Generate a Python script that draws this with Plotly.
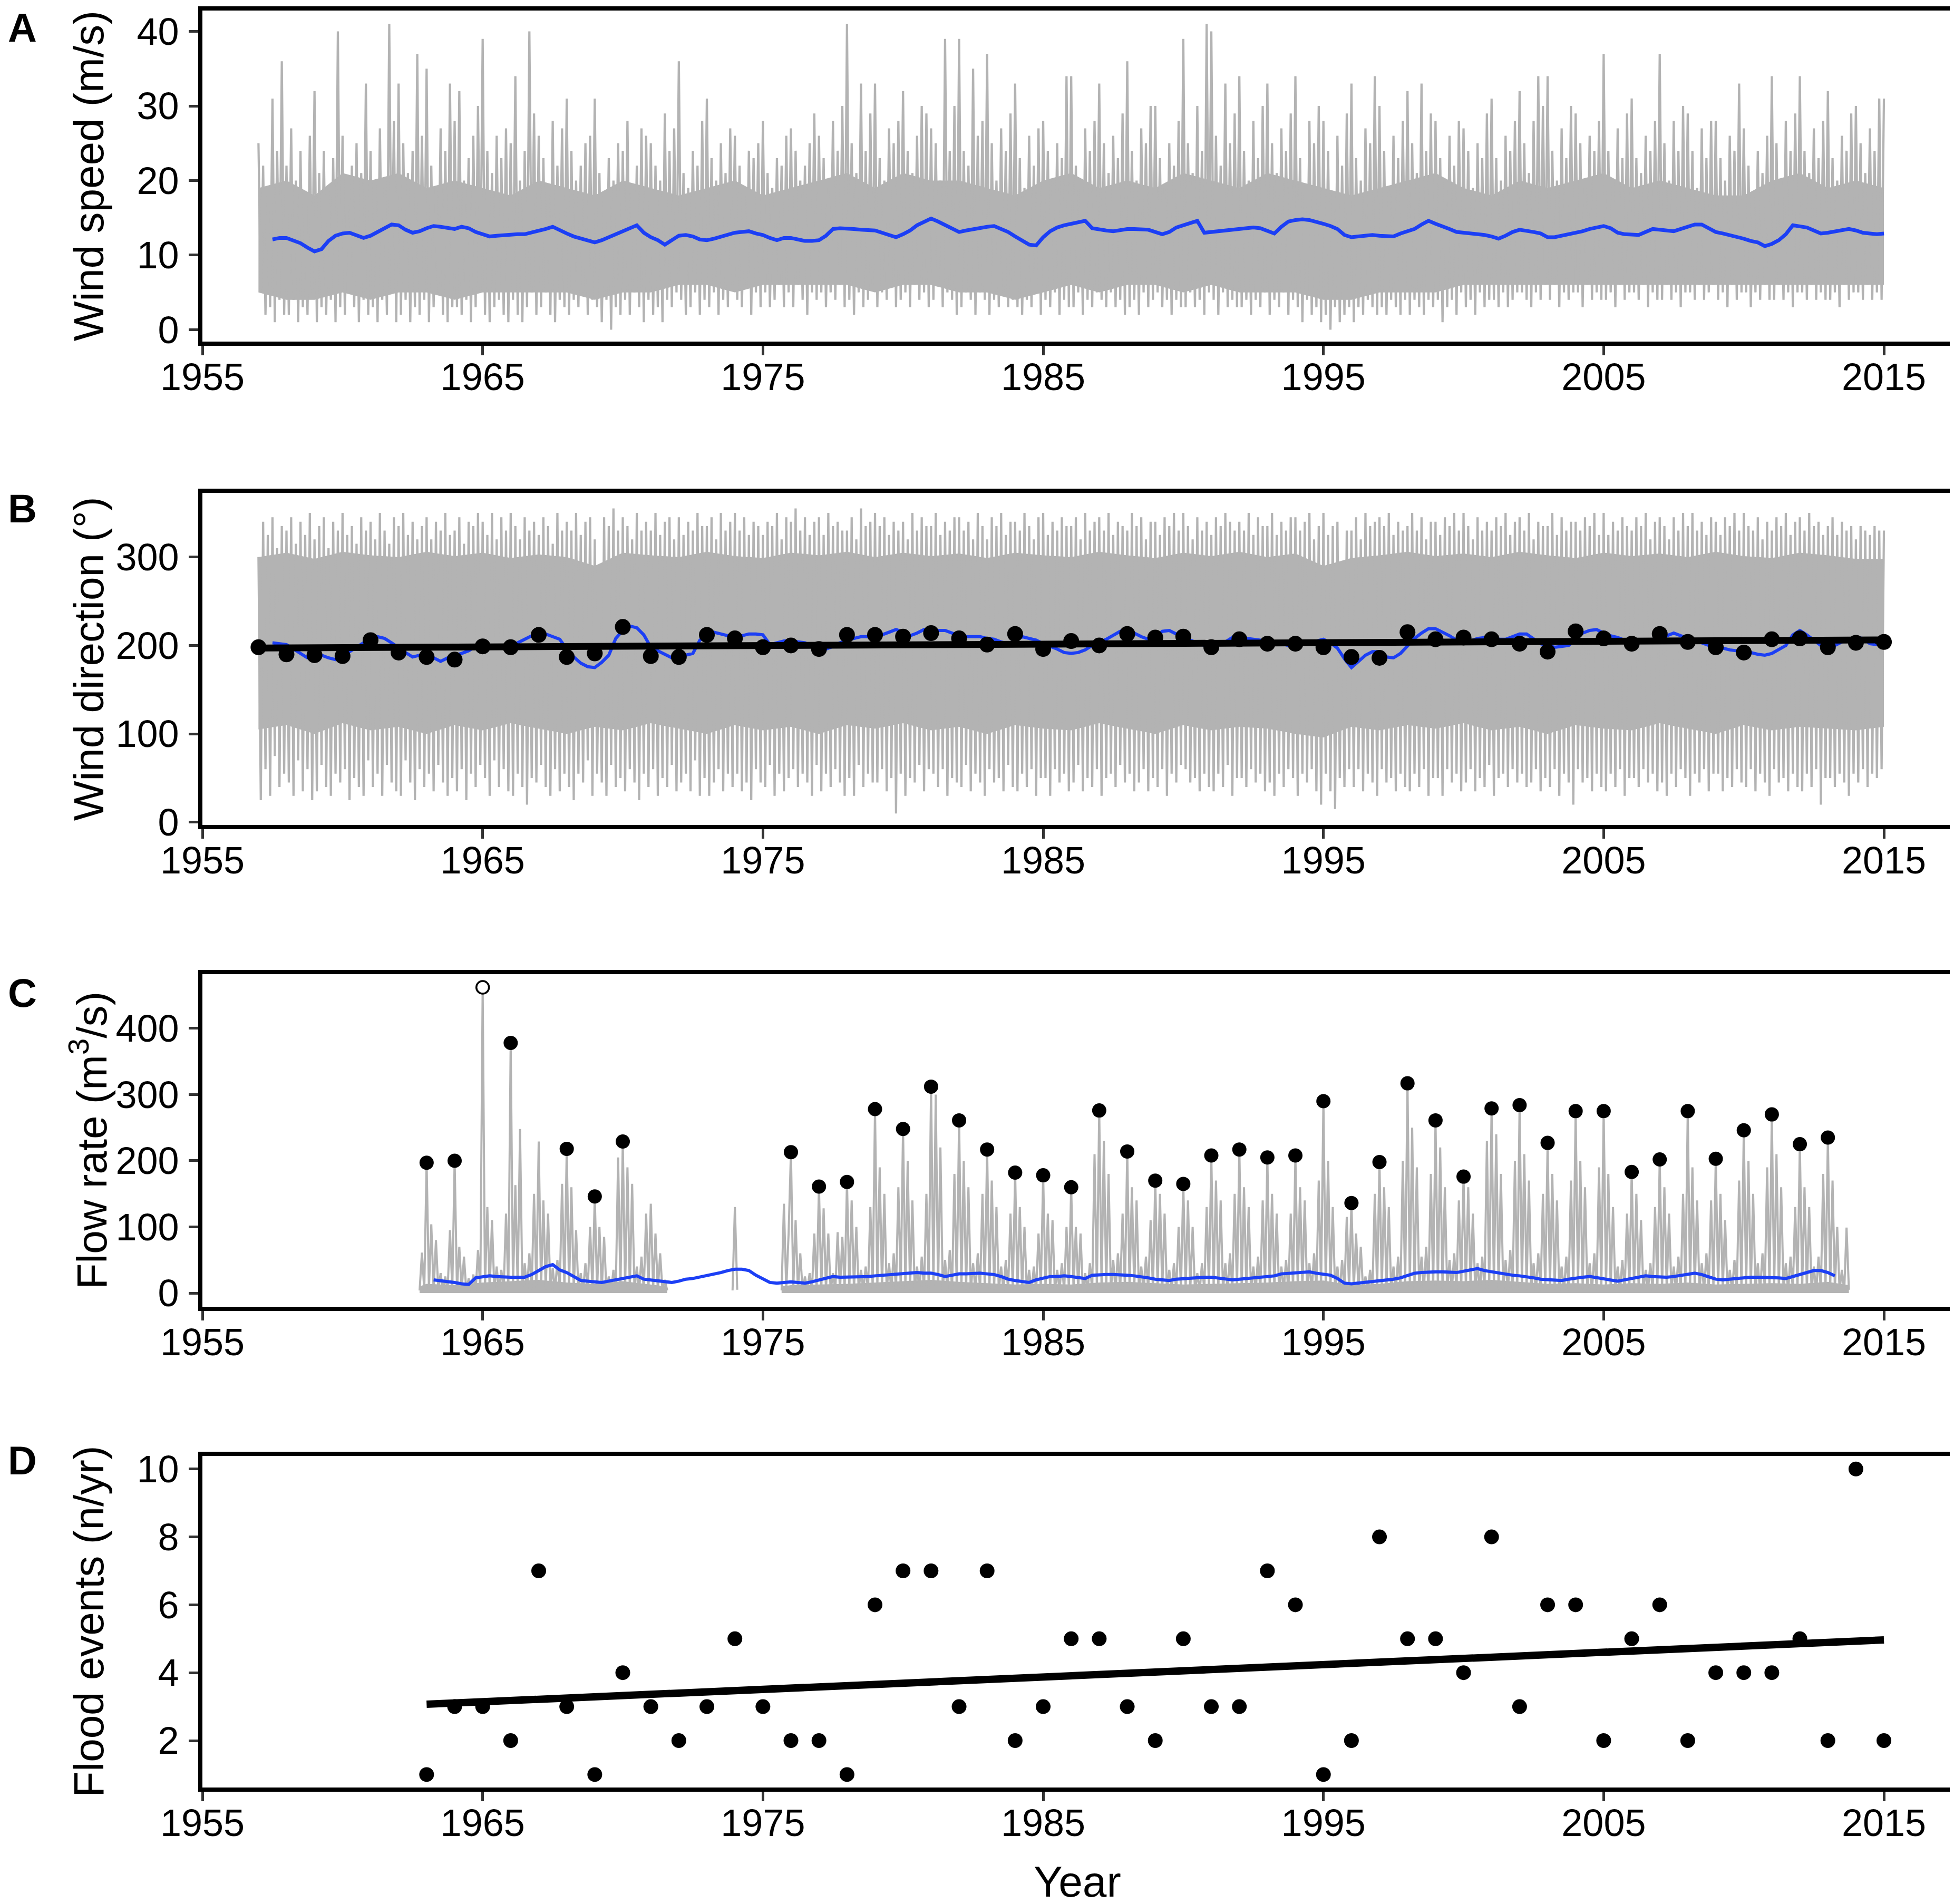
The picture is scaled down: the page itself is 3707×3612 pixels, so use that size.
import numpy as np
import plotly.graph_objects as go

# ---------------- data ----------------

# A: daily wind speed (m/s), kept as alternating bi-monthly highs / lows
wind_speed_start = 1957.0
wind_speed_high = [
    25, 22, 19, 31, 24, 36,   # 1957
    22, 27, 20, 24, 18, 26,
    32, 21, 24, 19, 23, 40,
    26, 18, 22, 25, 21, 33,   # 1960
    24, 20, 27, 19, 41, 28,
    33, 25, 21, 24, 37, 26,
    35, 22, 19, 27, 24, 33,
    28, 32, 20, 23, 26, 30,
    39, 24, 21, 26, 23, 27,   # 1965
    25, 34, 20, 24, 40, 29,
    26, 23, 19, 28, 22, 27,
    31, 24, 20, 22, 25, 26,
    31, 21, 18, 23, 20, 25,
    24, 28, 19, 22, 27, 26,   # 1970
    25, 22, 20, 29, 24, 27,
    36, 21, 19, 24, 22, 28,
    31, 23, 20, 25, 21, 27,
    26, 22, 18, 24, 23, 25,
    28, 21, 19, 23, 22, 26,   # 1975
    27, 24, 20, 22, 25, 29,
    26, 23, 19, 28, 24, 30,
    41, 25, 21, 33, 24, 29,
    33, 23, 20, 27, 25, 28,
    32, 24, 21, 26, 30, 29,   # 1980
    27, 25, 20, 39, 24, 30,
    39, 24, 22, 35, 26, 28,
    37, 25, 20, 27, 24, 29,
    33, 23, 19, 26, 22, 27,
    28, 24, 20, 25, 23, 34,   # 1985
    34, 22, 19, 27, 24, 28,
    33, 25, 21, 26, 23, 29,
    36, 24, 20, 27, 25, 30,
    30, 23, 19, 25, 22, 28,
    39, 25, 21, 30, 24, 41,   # 1990
    40, 26, 22, 33, 25, 29,
    34, 24, 20, 28, 23, 30,
    33, 25, 21, 27, 24, 29,
    34, 23, 19, 28, 25, 30,
    28, 24, 18, 26, 22, 29,   # 1995
    33, 23, 20, 27, 25, 34,
    30, 24, 19, 26, 23, 28,
    32, 25, 21, 33, 24, 29,
    28, 23, 20, 26, 22, 28,
    27, 24, 19, 25, 23, 29,   # 2000
    31, 23, 20, 26, 24, 28,
    32, 25, 21, 28, 34, 30,
    34, 24, 20, 27, 23, 30,
    29, 25, 19, 26, 24, 28,
    37, 24, 20, 27, 23, 29,   # 2005
    31, 23, 21, 26, 24, 28,
    37, 25, 20, 28, 24, 30,
    29, 24, 19, 27, 23, 28,
    28, 23, 20, 26, 24, 33,
    27, 22, 18, 24, 21, 26,   # 2010
    34, 25, 20, 28, 24, 29,
    34, 24, 21, 27, 23, 28,
    32, 23, 20, 26, 24, 29,
    30, 25, 21, 27, 24, 31,
    31,                       # 2015
]
wind_speed_low = [
    5, 2, 3, 1, 4, 2,   # 1957
    2, 4, 1, 3, 2, 5,
    1, 3, 2, 4, 1, 3,
    2, 5, 3, 1, 4, 2,   # 1960
    3, 1, 4, 2, 5, 1,
    2, 4, 1, 3, 2, 4,
    1, 3, 5, 2, 1, 3,
    3, 2, 4, 1, 3, 5,
    2, 1, 3, 4, 2, 1,   # 1965
    4, 2, 1, 3, 5, 2,
    3, 5, 2, 1, 4, 3,
    2, 4, 3, 5, 2, 4,
    3, 1, 4, 0, 3, 2,
    4, 2, 5, 3, 1, 4,   # 1970
    2, 3, 1, 4, 3, 5,
    4, 2, 3, 5, 2, 4,
    3, 5, 2, 4, 3, 6,
    4, 3, 6, 2, 5, 3,
    5, 3, 4, 6, 3, 5,   # 1975
    3, 6, 4, 2, 5, 4,
    5, 3, 5, 4, 6, 3,
    4, 2, 5, 3, 4, 6,
    3, 5, 4, 6, 3, 4,
    5, 3, 6, 4, 5, 3,   # 1980
    4, 6, 3, 5, 4, 2,
    3, 5, 4, 2, 5, 4,
    2, 4, 3, 5, 3, 4,
    3, 2, 4, 3, 5, 2,
    4, 3, 5, 2, 4, 3,   # 1985
    3, 5, 2, 4, 3, 5,
    4, 3, 5, 3, 4, 2,
    3, 4, 2, 5, 3, 4,
    5, 3, 4, 2, 4, 3,
    3, 5, 3, 4, 2, 5,   # 1990
    4, 2, 5, 3, 4, 3,
    3, 4, 2, 4, 3, 5,
    2, 4, 3, 5, 2, 4,
    3, 1, 4, 2, 3, 1,
    2, 0, 3, 1, 2, 3,   # 1995
    1, 3, 2, 4, 3, 2,
    3, 2, 4, 3, 2, 4,
    2, 4, 3, 2, 4, 3,
    4, 1, 3, 4, 2, 5,
    3, 4, 2, 5, 3, 4,   # 2000
    4, 3, 5, 3, 4, 5,
    5, 4, 3, 5, 4, 6,
    4, 6, 3, 5, 4, 5,
    5, 3, 6, 4, 5, 4,
    4, 5, 3, 6, 4, 5,   # 2005
    5, 4, 6, 3, 5, 4,
    4, 6, 4, 5, 3, 5,
    5, 4, 6, 4, 5, 6,
    4, 5, 3, 6, 4, 5,
    5, 3, 5, 4, 6, 4,   # 2010
    4, 6, 4, 5, 3, 5,
    5, 4, 6, 4, 5, 4,
    4, 5, 3, 6, 4, 5,
    5, 4, 6, 4, 5, 4,
]
# dense core of the daily trace, one value per year 1957..2015
wind_years = list(range(1957, 2016))
wind_speed_core_top = [
    19, 20, 18, 21, 20, 21, 19, 20, 19, 18,
    20, 19, 18, 20, 19, 18, 19, 20, 18, 19,
    20, 21, 19, 21, 20, 20, 19, 18, 20, 21,
    19, 20, 19, 21, 20, 19, 21, 20, 19, 18,
    19, 20, 21, 19, 18, 20, 19, 20, 21, 19,
    20, 19, 18, 18, 20, 21, 19, 20, 19,
]
wind_speed_core_bottom = [
    5, 4, 4, 5, 4, 5, 5, 4, 5, 5,
    5, 5, 4, 5, 5, 6, 6, 5, 6, 6,
    6, 6, 5, 6, 6, 5, 5, 4, 5, 6,
    5, 6, 6, 5, 6, 5, 5, 5, 4, 4,
    5, 5, 5, 6, 6, 6, 6, 6, 6, 6,
    6, 6, 6, 6, 6, 6, 6, 6, 6,
]
# running mean, one value every quarter year from 1957.5
wind_speed_mean_start = 1957.5
wind_speed_mean = [
    12.1, 12.3,
    12.3, 12.0, 11.6, 11.0,  10.5, 10.8, 11.9, 12.6,
    12.9, 13.0, 12.6, 12.3,  12.6, 13.1, 13.7, 14.1,
    14.0, 13.4, 13.0, 13.2,  13.6, 13.9, 13.8, 13.6,
    13.5, 13.8, 13.6, 13.1,  12.8, 12.5, 12.6, 12.7,
    12.8, 12.8, 12.8, 13.0,  13.2, 13.5, 13.8, 13.3,
    12.9, 12.5, 12.2, 11.9,  11.7, 12.0, 12.4, 12.9,
    13.2, 13.6, 14.0, 13.0,  12.4, 12.0, 11.4, 12.0,
    12.6, 12.7, 12.5, 12.1,  12.0, 12.2, 12.5, 12.8,
    13.0, 13.1, 13.2, 12.9,  12.7, 12.3, 12.0, 12.3,
    12.3, 12.1, 11.9, 11.9,  12.0, 12.6, 13.5, 13.6,
    13.6, 13.5, 13.4, 13.4,  13.3, 13.0, 12.7, 12.4,
    12.8, 13.3, 14.0, 14.5,  14.9, 14.5, 14.0, 13.5,
    13.1, 13.3, 13.5, 13.6,  13.8, 13.9, 13.5, 13.1,
    12.5, 12.0, 11.4, 11.3,  12.4, 13.2, 13.7, 14.0,
    14.2, 14.3, 14.6, 13.6,  13.4, 13.3, 13.2, 13.4,
    13.5, 13.5, 13.5, 13.4,  13.1, 12.8, 13.1, 13.7,
    14.0, 14.3, 14.6, 13.0,  13.1, 13.2, 13.3, 13.4,
    13.5, 13.6, 13.7, 13.6,  13.3, 12.9, 13.8, 14.5,
    14.7, 14.8, 14.7, 14.5,  14.2, 13.9, 13.5, 12.7,
    12.4, 12.5, 12.6, 12.7,  12.6, 12.6, 12.5, 12.9,
    13.2, 13.5, 14.1, 14.6,  14.2, 13.9, 13.5, 13.1,
    13.0, 12.9, 12.9, 12.7,  12.5, 12.2, 12.6, 13.1,
    13.4, 13.3, 13.1, 12.9,  12.4, 12.4, 12.6, 12.7,
    12.9, 13.2, 13.5, 13.7,  13.9, 13.6, 13.0, 12.8,
    12.7, 12.7, 13.1, 13.5,  13.4, 13.3, 13.2, 13.5,
    13.8, 14.1, 14.1, 13.6,  13.1, 12.9, 12.7, 12.5,
    12.2, 11.9, 11.7, 11.2,  11.5, 12.0, 12.8, 14.0,
    13.9, 13.7, 13.3, 12.9,  13.0, 13.2, 13.4, 13.5,
    13.3, 13.0, 12.9, 12.8,
    12.9,
]

# B: daily wind direction (degrees)
wind_dir_start = 1957.0
wind_dir_high = [
    300, 340, 325, 345, 310, 335,   # 1957
    330, 345, 315, 340, 325, 350,
    320, 335, 345, 310, 340, 330,
    350, 325, 335, 315, 345, 330,   # 1960
    340, 320, 350, 330, 315, 345,
    335, 350, 325, 340, 320, 335,
    345, 320, 340, 330, 350, 325,
    330, 345, 315, 340, 335, 350,
    340, 325, 350, 320, 345, 330,   # 1965
    350, 335, 320, 345, 330, 340,
    325, 345, 335, 315, 350, 330,
    340, 330, 350, 325, 340, 345,
    320, 250, 345, 335, 355, 330,
    345, 335, 320, 350, 330, 340,   # 1970
    330, 350, 325, 340, 345, 320,
    345, 325, 340, 330, 350, 335,
    335, 345, 320, 350, 330, 340,
    350, 330, 345, 325, 340, 335,
    325, 340, 335, 350, 320, 345,   # 1975
    340, 355, 330, 345, 325, 340,
    345, 325, 350, 335, 340, 330,
    330, 345, 320, 355, 335, 340,
    350, 335, 345, 325, 340, 330,
    340, 320, 350, 330, 345, 335,   # 1980
    335, 350, 325, 340, 330, 345,
    345, 330, 340, 320, 350, 335,
    320, 345, 335, 350, 325, 340,
    340, 330, 350, 335, 320, 345,
    350, 325, 340, 330, 345, 335,   # 1985
    335, 345, 320, 350, 330, 340,
    345, 330, 350, 325, 340, 335,
    330, 350, 335, 345, 320, 340,
    340, 325, 345, 335, 350, 330,
    350, 335, 320, 345, 330, 340,   # 1990
    325, 345, 335, 350, 340, 330,
    340, 330, 350, 325, 345, 335,
    335, 350, 325, 340, 330, 345,
    345, 330, 340, 350, 320, 335,
    350, 325, 335, 340, 270, 330,   # 1995
    330, 345, 320, 350, 335, 340,
    345, 335, 350, 325, 340, 330,
    335, 350, 330, 345, 320, 340,
    340, 325, 345, 335, 350, 330,
    350, 335, 320, 345, 330, 340,   # 2000
    330, 345, 335, 350, 325, 340,
    345, 330, 350, 320, 340, 335,
    335, 350, 325, 345, 330, 340,
    340, 330, 345, 335, 350, 325,
    350, 325, 340, 330, 345, 335,   # 2005
    330, 345, 335, 350, 320, 340,
    345, 335, 320, 345, 330, 350,
    335, 350, 330, 340, 325, 345,
    340, 325, 345, 335, 350, 330,
    350, 335, 330, 345, 320, 340,   # 2010
    330, 345, 335, 350, 325, 340,
    345, 330, 350, 335, 340, 325,
    335, 345, 325, 340, 330, 335,
    320, 335, 330, 325, 335, 330,
    330,                            # 2015
]
wind_dir_low = [
    25, 60, 30, 75, 40, 55,   # 1957
    45, 30, 70, 35, 60, 25,
    35, 65, 40, 30, 55, 45,
    60, 25, 50, 40, 30, 70,   # 1960
    40, 55, 30, 65, 45, 35,
    30, 70, 45, 25, 60, 40,
    55, 35, 65, 45, 30, 50,
    35, 60, 25, 55, 40, 65,
    50, 30, 70, 40, 60, 35,   # 1965
    30, 55, 40, 20, 50, 45,
    65, 40, 30, 60, 35, 55,
    40, 25, 55, 45, 70, 30,
    55, 45, 30, 65, 40, 50,
    35, 60, 45, 25, 55, 40,   # 1970
    60, 30, 50, 40, 65, 35,
    45, 55, 35, 70, 30, 50,
    30, 45, 60, 35, 55, 40,
    55, 35, 45, 25, 60, 45,
    40, 65, 30, 55, 35, 50,   # 1975
    60, 40, 55, 45, 30, 65,
    35, 55, 40, 60, 45, 30,
    50, 30, 65, 40, 55, 45,
    45, 60, 35, 50, 10, 55,
    30, 50, 45, 65, 35, 60,   # 1980
    55, 40, 60, 30, 50, 45,
    40, 65, 35, 55, 45, 30,
    60, 45, 50, 35, 65, 40,
    35, 55, 40, 60, 30, 50,
    50, 30, 60, 45, 55, 35,   # 1985
    45, 65, 35, 50, 40, 60,
    30, 50, 55, 40, 65, 45,
    55, 35, 45, 60, 35, 50,
    40, 60, 30, 55, 45, 65,
    60, 45, 50, 35, 55, 40,   # 1990
    35, 55, 40, 65, 30, 50,
    50, 40, 60, 45, 55, 35,
    45, 30, 55, 40, 60, 50,
    30, 55, 45, 60, 35, 20,
    55, 35, 15, 50, 40, 60,   # 1995
    40, 60, 35, 55, 45, 30,
    60, 45, 50, 35, 55, 40,
    35, 55, 40, 60, 30, 50,
    50, 30, 60, 45, 55, 35,
    45, 60, 35, 50, 40, 65,   # 2000
    30, 50, 55, 40, 60, 45,
    55, 40, 45, 60, 35, 50,
    40, 60, 30, 55, 45, 20,
    60, 45, 50, 35, 55, 40,
    35, 55, 40, 60, 30, 50,   # 2005
    50, 40, 60, 45, 55, 35,
    45, 30, 55, 40, 60, 50,
    30, 55, 45, 60, 35, 55,
    55, 35, 50, 40, 60, 45,
    40, 60, 35, 55, 45, 30,   # 2010
    60, 45, 50, 35, 55, 40,
    35, 55, 40, 60, 20, 50,
    50, 40, 55, 45, 30, 55,
    45, 60, 40, 55, 50, 60,
]
wind_dir_core_top = [
    300, 305, 298, 306, 302, 300, 306, 301, 305, 299,
    303, 300, 290, 305, 302, 300, 306, 301, 299, 305,
    302, 306, 300, 305, 301, 304, 299, 305, 302, 300,
    306, 302, 299, 305, 301, 306, 300, 304, 290, 299,
    302, 306, 301, 304, 300, 306, 302, 299, 305, 301,
    304, 300, 306, 301, 299, 305, 302, 298, 298,
]
wind_dir_core_bottom = [
    105, 110, 100, 112, 104, 108, 100, 110, 104, 112,
    106, 100, 108, 104, 112, 106, 100, 110, 104, 108,
    100, 110, 106, 112, 104, 108, 100, 110, 106, 104,
    112, 106, 100, 110, 104, 108, 106, 100, 96, 108,
    104, 110, 106, 112, 104, 108, 100, 110, 106, 104,
    112, 106, 100, 110, 104, 108, 106, 104, 108,
]
wind_dir_mean_start = 1957.5
wind_dir_mean = [
    203, 202,
    201, 196, 191, 186,  186, 189, 186, 184,
    188, 193, 199, 204,  208, 210, 208, 203,
    197, 192, 187, 189,  191, 186, 182, 186,
    189, 191, 194, 199,  200, 197, 197, 198,
    198, 203, 207, 211,  213, 213, 210, 207,
    196, 187, 180, 176,  175, 181, 189, 208,
    217, 222, 220, 212,  198, 194, 190, 186,
    186, 189, 191, 206,  212, 215, 213, 211,
    209, 211, 213, 213,  212, 201, 203, 205,
    205, 204, 203, 199,  195, 196, 199, 203,
    206, 208, 210, 210,  211, 212, 215, 218,
    215, 211, 214, 218,  218, 217, 217, 214,
    211, 210, 210, 210,  208, 207, 204, 202,
    205, 210, 208, 206,  202, 199, 196, 192,
    191, 192, 195, 200,  203, 207, 211, 216,
    218, 214, 210, 207,  208, 216, 217, 213,
    209, 206, 203, 200,  198, 201, 204, 209,
    210, 208, 207, 206,  204, 203, 202, 200,
    200, 202, 203, 205,  207, 203, 197, 185,
    175, 182, 189, 193,  193, 187, 186, 191,
    199, 208, 214, 219,  219, 215, 211, 206,
    204, 205, 208, 209,  208, 207, 207, 210,
    213, 213, 207, 202,  200, 198, 199, 200,
    207, 214, 217, 218,  214, 211, 209, 206,
    204, 204, 205, 207,  209, 211, 214, 211,
    208, 206, 203, 200,  198, 197, 195, 194,
    193, 192, 190, 189,  191, 195, 200, 212,
    217, 212, 206, 200,  197, 200, 204, 206,
    209, 208, 202, 201,
    202,
]
wind_dir_years = list(range(1957, 2016))
wind_dir_annual = [
    198, 190, 189, 188, 206, 192, 187, 184, 199, 198,
    212, 187, 191, 221, 188, 187, 212, 208, 198, 200,
    196, 212, 212, 210, 214, 208, 201, 213, 196, 205,
    200, 213, 209, 210, 198, 207, 202, 202, 198, 187,
    186, 215, 207, 209, 207, 202, 193, 216, 208, 202,
    213, 204, 198, 192, 207, 208, 198, 203, 204,
]

# C: daily flow rate (m3/s), monthly samples, three pieces with gaps
flow_part1_start = 1962.75
flow_part1 = [
    4, 61, 5,                                          # 1962
    197, 6, 104, 4, 80, 5, 30, 3, 25, 4, 95, 5,        # 1963
    200, 5, 70, 4, 55, 3, 22, 4, 28, 3, 65, 6,
    462, 7, 130, 5, 110, 4, 40, 3, 35, 5, 120, 6,      # 1965
    378, 8, 163, 6, 248, 5, 45, 4, 60, 5, 150, 7,
    229, 6, 140, 5, 120, 4, 38, 3, 50, 4, 165, 6,
    218, 7, 160, 5, 95, 4, 30, 3, 45, 4, 100, 5,
    146, 5, 100, 4, 85, 3, 25, 2, 35, 4, 205, 6,
    229, 6, 190, 5, 165, 4, 40, 3, 55, 4, 120, 5,      # 1970
    135, 5, 90, 4, 60, 3, 20, 4,
]
flow_part2_start = 1973 + 11 / 12
flow_part2 = [4, 130, 5]
flow_part3_start = 1975 + 8 / 12
flow_part3 = [
    4, 135, 5, 90,                                     # 1975
    213, 6, 110, 4, 60, 3, 25, 4, 30, 3, 90, 5,        # 1976
    161, 5, 128, 4, 90, 3, 30, 4, 92, 3, 85, 5,
    168, 6, 140, 4, 100, 5, 35, 3, 40, 4, 130, 6,
    278, 7, 190, 5, 150, 4, 45, 3, 60, 5, 160, 6,
    248, 6, 200, 5, 140, 4, 40, 3, 55, 4, 150, 7,      # 1980
    312, 8, 300, 6, 220, 5, 50, 4, 65, 5, 180, 6,
    261, 7, 200, 5, 160, 4, 45, 3, 60, 4, 150, 6,
    217, 6, 170, 5, 130, 4, 40, 3, 50, 4, 120, 5,
    182, 5, 130, 4, 100, 3, 35, 2, 40, 4, 90, 5,
    178, 6, 120, 4, 110, 3, 35, 4, 45, 3, 100, 5,      # 1985
    160, 5, 100, 4, 90, 3, 30, 2, 45, 4, 210, 6,
    276, 7, 230, 5, 180, 4, 50, 3, 60, 5, 120, 6,
    214, 6, 160, 5, 140, 4, 40, 3, 55, 4, 110, 5,
    170, 5, 150, 4, 120, 3, 35, 4, 45, 3, 100, 5,
    165, 6, 140, 4, 100, 3, 30, 2, 45, 4, 130, 6,      # 1990
    208, 7, 170, 5, 140, 4, 45, 3, 60, 5, 150, 6,
    217, 6, 160, 5, 130, 4, 40, 3, 55, 4, 140, 5,
    205, 6, 150, 4, 120, 3, 40, 4, 50, 3, 120, 5,
    208, 7, 160, 5, 140, 4, 45, 3, 60, 5, 170, 6,
    290, 6, 200, 5, 130, 4, 40, 3, 50, 4, 115, 5,      # 1995
    136, 5, 90, 4, 70, 3, 25, 2, 35, 4, 150, 6,
    198, 6, 160, 5, 130, 4, 40, 3, 55, 4, 200, 7,
    317, 8, 250, 6, 190, 5, 55, 4, 70, 5, 180, 6,
    261, 7, 220, 5, 160, 4, 50, 3, 60, 4, 140, 6,
    176, 6, 160, 5, 120, 4, 45, 3, 55, 5, 230, 7,      # 2000
    279, 7, 240, 5, 180, 4, 50, 3, 65, 5, 200, 6,
    284, 7, 210, 5, 170, 4, 45, 3, 60, 4, 150, 6,
    227, 6, 180, 5, 140, 4, 40, 3, 55, 4, 170, 6,
    275, 7, 200, 5, 160, 4, 45, 3, 60, 5, 190, 6,
    275, 6, 180, 5, 130, 4, 40, 3, 50, 4, 120, 5,      # 2005
    183, 5, 150, 4, 110, 3, 35, 4, 45, 3, 130, 5,
    202, 6, 160, 5, 120, 4, 40, 3, 55, 4, 150, 6,
    275, 7, 190, 5, 140, 4, 45, 3, 60, 5, 140, 6,
    203, 6, 150, 5, 110, 4, 35, 3, 50, 4, 170, 6,
    246, 7, 200, 5, 150, 4, 45, 3, 60, 5, 190, 6,      # 2010
    270, 7, 210, 5, 160, 4, 45, 3, 55, 4, 130, 5,
    225, 6, 160, 5, 130, 4, 40, 3, 55, 4, 180, 6,
    235, 7, 170, 5, 100, 4, 35, 3, 99, 5,              # 2013
]
# base-flow band under the spikes: start of piece, each year, end of piece
flow_base1 = [10, 14, 12, 16, 18, 20, 16, 14, 18, 13, 10]
flow_base3 = [
    10, 12, 13, 14, 16, 18, 20, 17, 15, 13,
    14, 13, 16, 17, 15, 13, 14, 15, 16, 18,
    19, 12, 14, 18, 19, 18, 20, 17, 14, 15,
    13, 15, 14, 16, 13, 14, 15, 14, 17, 12,
]
flow_mean_start = 1963.25
flow_mean = [
    20, 19, 17,
    16, 14, 13, 23,  24, 26, 25, 24,  24, 24, 24, 28,  34, 40, 43, 35,
    31, 25, 19, 18,  17, 16, 18, 20,  22, 25, 26, 21,  20, 18, 17, 16,
    18, 21, 22, 24,  26, 28, 31, 34,  36, 36, 34, 27,  21, 16, 15, 16,
    17, 16, 15, 17,  20, 22, 25, 24,  24, 24, 25, 25,  26, 27, 28, 29,
    30, 31, 31, 30,  30, 28, 25, 27,  29, 29, 30, 30,  29, 28, 25, 21,
    19, 17, 16, 20,  23, 25, 25, 26,  25, 23, 22, 27,  28, 28, 28, 28,
    27, 26, 25, 23,  21, 20, 19, 21,  22, 22, 23, 24,  24, 23, 21, 20,
    21, 22, 23, 24,  25, 26, 29, 30,  31, 31, 32, 30,  29, 27, 22, 15,
    14, 15, 16, 17,  18, 19, 21, 23,  26, 30, 31, 32,  32, 32, 31, 31,
    33, 35, 37, 34,  32, 31, 29, 27,  26, 25, 23, 21,  20, 19, 19, 21,
    23, 24, 25, 23,  21, 19, 18, 20,  22, 25, 26, 25,  24, 24, 25, 27,
    29, 30, 28, 24,  21, 20, 21, 23,  24, 24, 24, 24,  24, 23, 22, 25,
    28, 32, 34, 34,
    31, 26,
]
flow_peak_years = [1963, 1964, 1965, 1966, 1968, 1969, 1970] + list(range(1976, 2014))
flow_peak = [
    197, 200, 462, 378, 218, 146, 229,
    213, 161, 168, 278, 248, 312, 261, 217, 182, 178,
    160, 276, 214, 170, 165, 208, 217, 205, 208, 290,
    136, 198, 317, 261, 176, 279, 284, 227, 275, 275,
    183, 202, 275, 203, 246, 270, 225, 235,
]
flow_outlier_years = [1965]

# D: flood events per year
flood_years = list(range(1963, 2016))
flood_events = [
    1, 3, 3, 2, 7, 3, 1, 4, 3, 2,
    3, 5, 3, 2, 2, 1, 6, 7, 7, 3,
    7, 2, 3, 5, 5, 3, 2, 5, 3, 3,
    7, 6, 1, 2, 8, 5, 5, 4, 8, 3,
    6, 6, 2, 5, 6, 2, 4, 4, 4, 5,
    2, 10, 2,
]

# ---------------- helpers ----------------
GREY = "#b3b3b3"
BLUE = "#1c3ff5"
FONT = "Liberation Sans, Arial, sans-serif"
W, H = 3707, 3612


def stepped(start, values, step):
    return [start + i * step for i in range(len(values))]


def zigzag(start, high, low, step=1 / 12):
    vals = []
    for i in range(len(high)):
        vals.append(high[i])
        if i < len(low):
            vals.append(low[i])
    return stepped(start, vals, step), vals


def joined(parts):
    xs, ys = [], []
    for start, vals in parts:
        if xs:
            xs.append(None)
            ys.append(None)
        xs += stepped(start, vals, 1 / 12)
        ys += vals
    return xs, ys


def piece_years(start, vals):
    # start of the piece, every whole year inside it, end of the piece
    end = start + (len(vals) - 1) / 12
    return [start] + list(range(int(start) + 1, int(end) + 1)) + [end]


def band(fig, xs, bottom, top, ax):
    fig.add_trace(go.Scatter(x=xs, y=bottom, mode="lines", line=dict(width=0, color=GREY),
                             xaxis="x" + ax, yaxis="y" + ax))
    fig.add_trace(go.Scatter(x=xs, y=top, mode="lines", line=dict(width=0, color=GREY),
                             fill="tonexty", fillcolor=GREY, xaxis="x" + ax, yaxis="y" + ax))


fig = go.Figure()

# A
band(fig, wind_years, wind_speed_core_bottom, wind_speed_core_top, "")
x, y = zigzag(wind_speed_start, wind_speed_high, wind_speed_low)
fig.add_trace(go.Scatter(x=x, y=y, mode="lines", line=dict(color=GREY, width=4.2),
                         xaxis="x", yaxis="y"))
fig.add_trace(go.Scatter(x=stepped(wind_speed_mean_start, wind_speed_mean, 0.25), y=wind_speed_mean,
                         mode="lines", line=dict(color=BLUE, width=7), xaxis="x", yaxis="y"))

# B
band(fig, wind_years, wind_dir_core_bottom, wind_dir_core_top, "2")
x, y = zigzag(wind_dir_start, wind_dir_high, wind_dir_low)
fig.add_trace(go.Scatter(x=x, y=y, mode="lines", line=dict(color=GREY, width=4.2),
                         xaxis="x2", yaxis="y2"))
fig.add_trace(go.Scatter(x=stepped(wind_dir_mean_start, wind_dir_mean, 0.25), y=wind_dir_mean,
                         mode="lines", line=dict(color=BLUE, width=6), xaxis="x2", yaxis="y2"))
slope, icpt = np.polyfit(wind_dir_years, wind_dir_annual, 1)
trend_x = [wind_dir_years[0], wind_dir_years[-1]]
fig.add_trace(go.Scatter(x=trend_x, y=[slope * v + icpt for v in trend_x], mode="lines",
                         line=dict(color="black", width=13), xaxis="x2", yaxis="y2"))
fig.add_trace(go.Scatter(x=wind_dir_years, y=wind_dir_annual, mode="markers",
                         marker=dict(color="black", size=30), xaxis="x2", yaxis="y2"))

# C
for start, vals, base in [(flow_part1_start, flow_part1, flow_base1),
                          (flow_part3_start, flow_part3, flow_base3)]:
    fig.add_trace(go.Scatter(x=piece_years(start, vals), y=base, mode="lines",
                             line=dict(width=0, color=GREY), fill="tozeroy", fillcolor=GREY,
                             xaxis="x3", yaxis="y3"))
x, y = joined([(flow_part1_start, flow_part1), (flow_part2_start, flow_part2),
               (flow_part3_start, flow_part3)])
fig.add_trace(go.Scatter(x=x, y=y, mode="lines", line=dict(color=GREY, width=4),
                         connectgaps=False, xaxis="x3", yaxis="y3"))
fig.add_trace(go.Scatter(x=stepped(flow_mean_start, flow_mean, 0.25), y=flow_mean,
                         mode="lines", line=dict(color=BLUE, width=6), xaxis="x3", yaxis="y3"))
normal = [(yr, v) for yr, v in zip(flow_peak_years, flow_peak) if yr not in flow_outlier_years]
outl = [(yr, v) for yr, v in zip(flow_peak_years, flow_peak) if yr in flow_outlier_years]
fig.add_trace(go.Scatter(x=[p[0] for p in normal], y=[p[1] for p in normal], mode="markers",
                         marker=dict(color="black", size=27), xaxis="x3", yaxis="y3"))
fig.add_trace(go.Scatter(x=[p[0] for p in outl], y=[p[1] for p in outl], mode="markers",
                         marker=dict(color="white", size=24, line=dict(color="black", width=3.5)),
                         xaxis="x3", yaxis="y3"))

# D
slope, icpt = np.polyfit(flood_years, flood_events, 1)
trend_x = [flood_years[0], flood_years[-1]]
fig.add_trace(go.Scatter(x=trend_x, y=[slope * v + icpt for v in trend_x], mode="lines",
                         line=dict(color="black", width=14), xaxis="x4", yaxis="y4"))
fig.add_trace(go.Scatter(x=flood_years, y=flood_events, mode="markers",
                         marker=dict(color="black", size=28), xaxis="x4", yaxis="y4"))

# ---------------- layout ----------------
x_dom = [376 / W, 3691 / W]
panels = [  # top px, bottom px, y range, y ticks
    (12, 640, [-1.6, 42.8], [0, 10, 20, 30, 40]),
    (927, 1557, [-3, 372.6], [0, 100, 200, 300]),
    (1840, 2471, [-20.7, 482], [0, 100, 200, 300, 400]),
    (2754, 3383, [0.618, 10.385], [2, 4, 6, 8, 10]),
]
y_titles = ["Wind speed (m/s)", "Wind direction (°)", "Flow rate (m<sup>3</sup>/s)",
            "Flood events (n/yr)"]
letters = ["A", "B", "C", "D"]
letter_y = [None, 956, 1875, 2762]

axis_style = dict(showline=True, mirror=True, linewidth=8, linecolor="black",
                  ticks="outside", ticklen=18, tickwidth=5, tickcolor="#333333",
                  showgrid=False, zeroline=False, automargin=False,
                  tickfont=dict(family=FONT, size=72, color="black"))

layout = dict(width=W, height=H, autosize=False, showlegend=False,
              margin=dict(l=0, r=0, t=0, b=0, pad=0),
              paper_bgcolor="white", plot_bgcolor="white", annotations=[])

for i, (top, bot, yr, yt) in enumerate(panels):
    n = "" if i == 0 else str(i + 1)
    layout["xaxis" + n] = dict(domain=x_dom, anchor="y" + n, range=[1955, 2017.35],
                               tickvals=[1955, 1965, 1975, 1985, 1995, 2005, 2015],
                               ticklabelstandoff=-20, **axis_style)
    layout["yaxis" + n] = dict(domain=[1 - bot / H, 1 - top / H], anchor="x" + n, range=yr,
                               tickvals=yt, ticklabelstandoff=4, **axis_style)
    layout["annotations"].append(dict(
        text=y_titles[i], textangle=-90, xref="paper", yref="paper",
        x=160 / W, y=1 - (top + bot) / 2 / H, xanchor="center", yanchor="middle",
        showarrow=False, font=dict(family=FONT, size=80, color="black")))
    if letter_y[i] is None:
        ly, anchor = 1.0, "top"
    else:
        ly, anchor = 1 - letter_y[i] / H, "middle"
    layout["annotations"].append(dict(
        text="<b>%s</b>" % letters[i], xref="paper", yref="paper",
        x=34 / W, y=ly, xanchor="center", yanchor=anchor,
        showarrow=False, font=dict(family=FONT, size=76, color="black")))

layout["annotations"].append(dict(
    text="Year", xref="paper", yref="paper", x=2036 / W, y=1 - 3561 / H,
    xanchor="center", yanchor="middle", showarrow=False,
    font=dict(family=FONT, size=82, color="black")))

fig.update_layout(**layout)

fig.write_html("out.html")
